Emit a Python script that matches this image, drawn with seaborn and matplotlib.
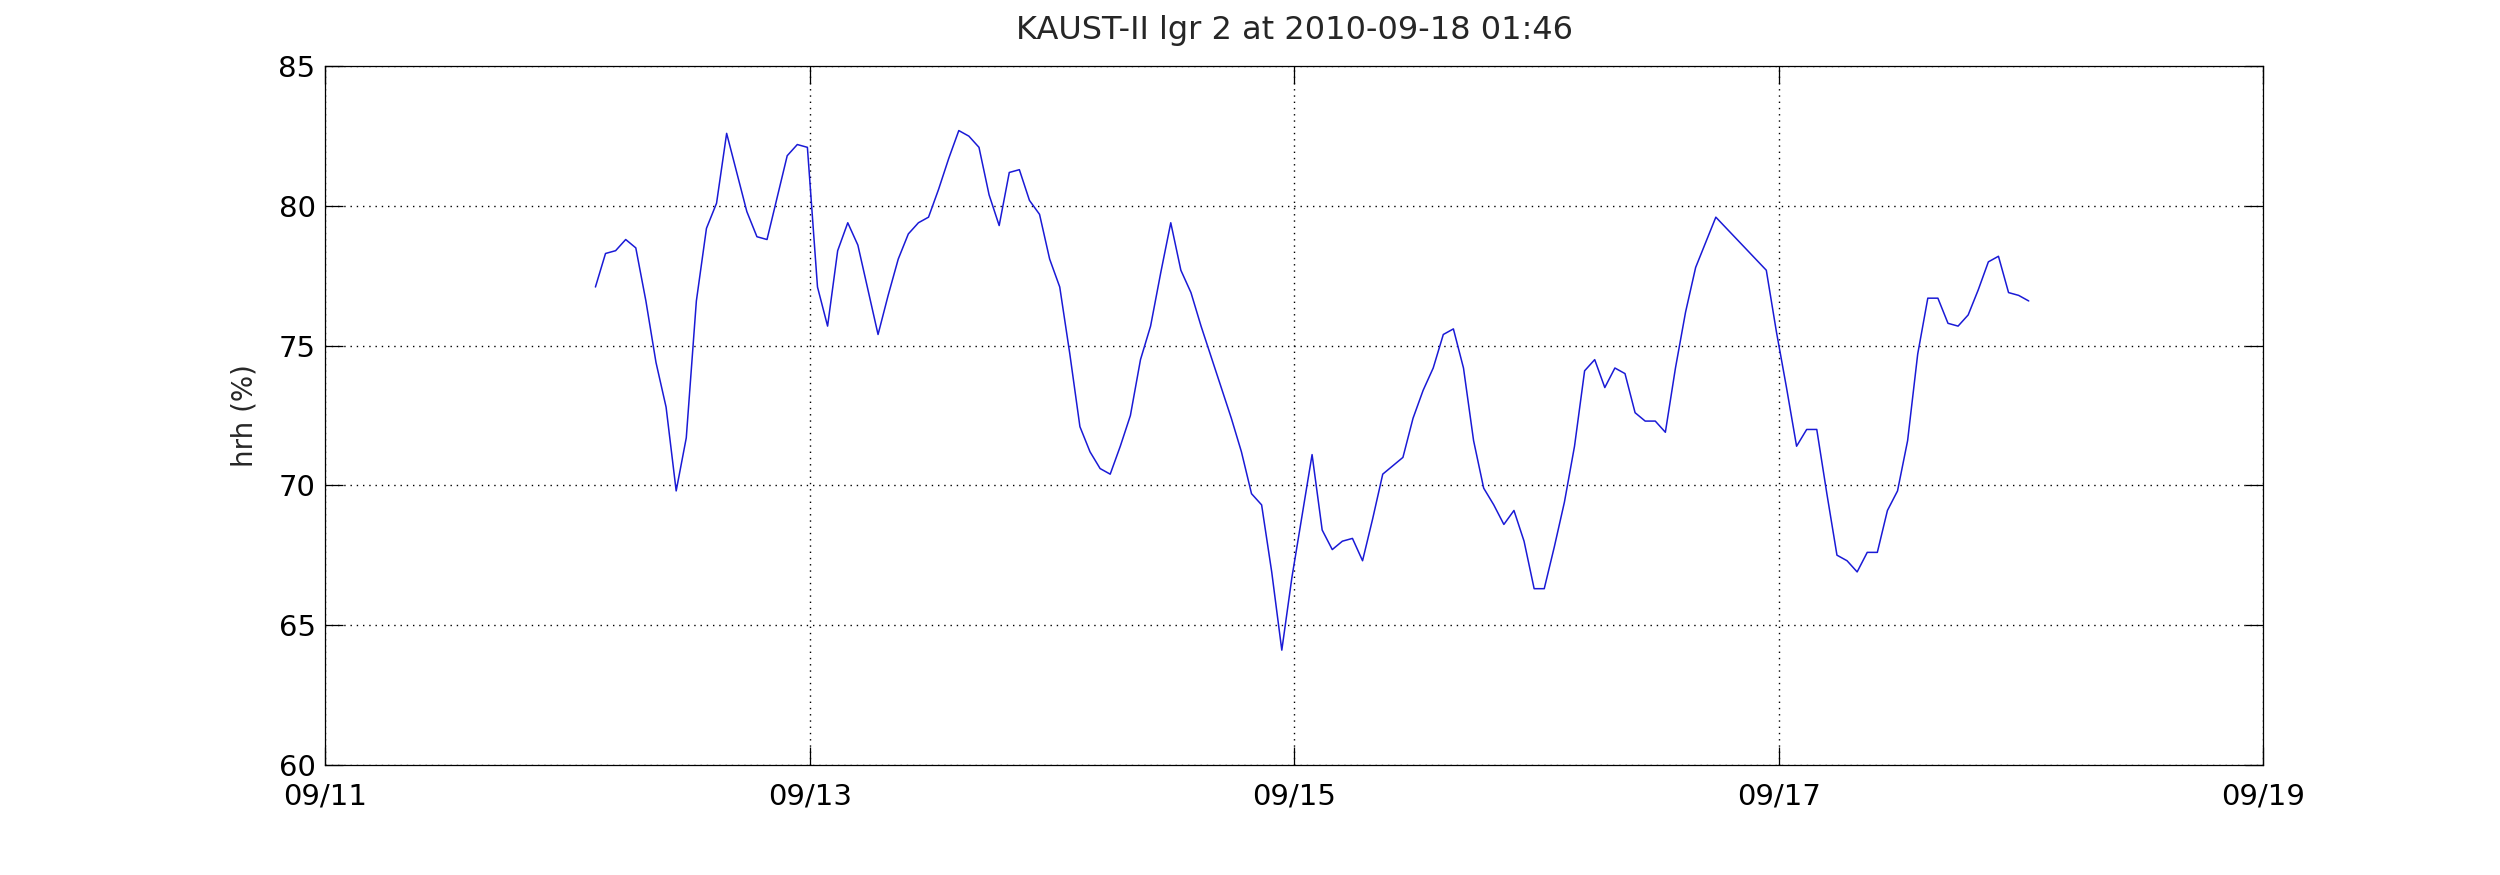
import pandas as pd
import matplotlib
matplotlib.use("Agg")
import matplotlib.pyplot as plt
import matplotlib.dates as mdates
import seaborn as sns

# hourly hrh readings, KAUST-II lgr 2 (hours counted from the first sample)
start_time = "2010-09-12 02:46"
hours = list(range(0, 112)) + list(range(116, 143))
hrh = [
    77.1, 78.3, 78.4, 78.8, 78.5, 76.6, 74.4, 72.8, 69.8, 71.7,
    76.6, 79.2, 80.1, 82.6, 81.2, 79.8, 78.9, 78.8, 80.3, 81.8,
    82.2, 82.1, 77.1, 75.7, 78.4, 79.4, 78.6, 77.0, 75.4, 76.8,
    78.1, 79.0, 79.4, 79.6, 80.6, 81.7, 82.7, 82.5, 82.1, 80.4,
    79.3, 81.2, 81.3, 80.2, 79.7, 78.1, 77.1, 74.7, 72.1, 71.2,
    70.6, 70.4, 71.4, 72.5, 74.5, 75.7, 77.6, 79.4, 77.7, 76.9,
    75.7, 74.6, 73.5, 72.4, 71.2, 69.7, 69.3, 66.9, 64.1, 66.7,
    68.9, 71.1, 68.4, 67.7, 68.0, 68.1, 67.3, 68.8, 70.4, 70.7,
    71.0, 72.4, 73.4, 74.2, 75.4, 75.6, 74.2, 71.6, 69.9, 69.3,
    68.6, 69.1, 68.0, 66.3, 66.3, 67.8, 69.4, 71.4, 74.1, 74.5,
    73.5, 74.2, 74.0, 72.6, 72.3, 72.3, 71.9, 74.2, 76.2, 77.8,
    78.7, 79.6,
    77.7, 75.5, 73.5, 71.4, 72.0, 72.0, 69.7, 67.5, 67.3, 66.9,
    67.6, 67.6, 69.1, 69.8, 71.6, 74.7, 76.7, 76.7, 75.8, 75.7,
    76.1, 77.0, 78.0, 78.2, 76.9, 76.8, 76.6,
]
x_ticks = ["2010-09-11", "2010-09-13", "2010-09-15", "2010-09-17", "2010-09-19"]
y_ticks = [60, 65, 70, 75, 80, 85]

df = pd.DataFrame({
    "time": pd.to_datetime(start_time) + pd.to_timedelta(hours, unit="h"),
    "hrh": hrh,
})

sns.set_theme(style="ticks")
plt.rcParams["font.family"] = ["DejaVu Sans"]

fig = plt.figure(figsize=(25, 8.75), dpi=100)
ax = fig.add_axes([0.1301, 0.1261, 0.7752, 0.7981])

sns.lineplot(data=df, x="time", y="hrh", ax=ax, color="#1a1ad6",
             linewidth=1.1, estimator=None, sort=False)

ax.set_xlim(pd.to_datetime(x_ticks[0]), pd.to_datetime(x_ticks[-1]))
ax.set_ylim(y_ticks[0], y_ticks[-1])
ax.set_xticks(pd.to_datetime(x_ticks))
ax.set_yticks(y_ticks)
ax.xaxis.set_major_formatter(mdates.DateFormatter("%m/%d"))

# matlab-like box with inward ticks and dotted grid
for side in ["top", "right", "bottom", "left"]:
    ax.spines[side].set_visible(True)
    ax.spines[side].set_color("black")
    ax.spines[side].set_linewidth(0.9)
ax.tick_params(axis="both", direction="in", length=13, width=0.9,
               colors="black", labelsize=21, top=True, right=True)
ax.tick_params(axis="x", pad=13)
ax.tick_params(axis="y", pad=7)
ax.grid(True, linestyle=(0, (1, 3.5)), color="black", linewidth=1.0)

ax.set_xlabel("")
ax.set_ylabel("hrh (%)", fontsize=20, labelpad=14)
ax.set_title("KAUST-II lgr 2 at 2010-09-18 01:46", fontsize=23, pad=20)

fig.savefig("out.png", dpi=100, facecolor="white")
